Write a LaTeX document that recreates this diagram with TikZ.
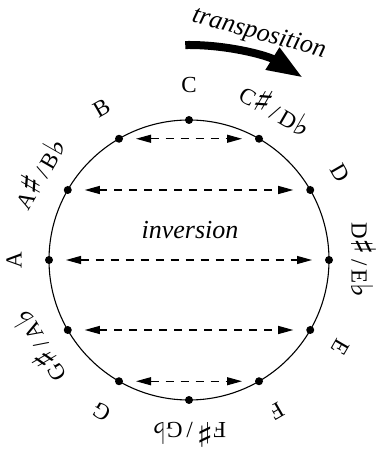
\documentclass[tikz,border=0pt]{standalone}
\usepackage{fontspec}
\setmainfont{Liberation Serif}
\newfontfamily\symf{DejaVu Sans}
\usetikzlibrary{arrows.meta}
\newcommand{\enh}[2]{#1{\symf\fontsize{34}{34}\selectfont ♯}\,/\,#2{\symf\fontsize{30}{30}\selectfont ♭}}

\begin{document}
\begin{tikzpicture}[x=1pt,y=1pt,font=\fontsize{23}{27}\selectfont,
  wheel/.style={line width=1.1pt},
  inv/.style={line width=1.1pt,dash pattern=on 8pt off 7pt,{Triangle[length=15pt,width=8pt]}-{Triangle[length=15pt,width=8pt]},shorten <=17pt,shorten >=17pt},
  trans/.style={line width=8pt,-{Triangle[length=36pt,width=24pt]}},
  note/.style={inner sep=0pt},
  word/.style={font=\fontsize{26}{30}\selectfont\itshape}]
\useasboundingbox (0,0) rectangle (380,449);
\coordinate (c) at (189,189);
\draw[wheel] (c) circle (140);
\foreach \i/\lab [evaluate=\i as \a using 90-30*\i] in {0/C,1/\enh CD,2/D,3/\enh DE,4/E,5/F,6/\enh FG,7/G,8/\enh GA,9/A,10/\enh AB,11/B} {
  \path (c) ++(\a:140) coordinate (d\i);
  \fill (d\i) circle (4);
  \path (c) ++(\a:175) node[note,rotate=\a-90] (l\i) {\lab};
}
% inversion pairs
\foreach \p/\q in {11/1,10/2,9/3,8/4,7/5} \draw[inv] (d\p) -- (d\q);
\node[word] (invlab) at (190,219) {inversion};
% transposition
\draw[trans] (c) ++(91:215) arc[start angle=91,end angle=58,radius=215];
\node[word,rotate=-15] (trlab) at (259,415) {transposition};
\end{tikzpicture}
\end{document}
